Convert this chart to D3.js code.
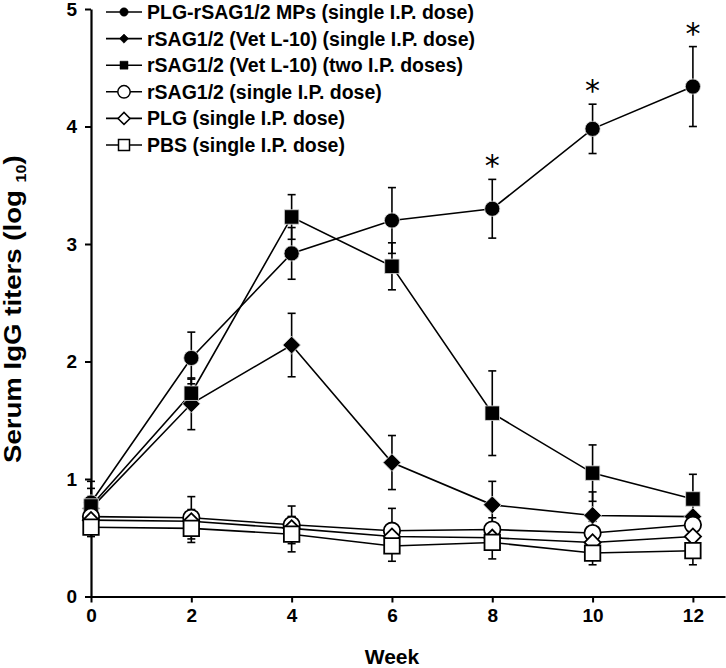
<!DOCTYPE html>
<html><head><meta charset="utf-8">
<script src="https://cdn.jsdelivr.net/npm/d3@7"></script>
<style>body{margin:0;background:#fff}svg{display:block}</style>
</head><body><svg id="chart" width="726" height="668"></svg>
<script>
// ---- data ----
const weeks = [0, 2, 4, 6, 8, 10, 12];
const seriesNames = [
  "PLG-rSAG1/2 MPs (single I.P. dose)",
  "rSAG1/2 (Vet L-10) (single I.P. dose)",
  "rSAG1/2 (Vet L-10) (two I.P. doses)",
  "rSAG1/2 (single I.P. dose)",
  "PLG (single I.P. dose)",
  "PBS (single I.P. dose)"
];
const mpsMean   = [0.80, 2.03, 2.92, 3.20, 3.30, 3.98, 4.34];
const mpsErr    = [0.18, 0.22, 0.22, 0.28, 0.25, 0.21, 0.34];
const vet1Mean  = [0.75, 1.64, 2.14, 1.14, 0.78, 0.69, 0.68];
const vet1Err   = [0.10, 0.22, 0.27, 0.23, 0.20, 0.20, 0.04];
const vet2Mean  = [0.77, 1.73, 3.23, 2.81, 1.56, 1.05, 0.83];
const vet2Err   = [0.15, 0.12, 0.19, 0.20, 0.36, 0.24, 0.21];
const sagMean   = [0.68, 0.67, 0.61, 0.56, 0.57, 0.54, 0.61];
const sagErr    = [0.10, 0.18, 0.16, 0.19, 0.10, 0.10, 0.05];
const plgMean   = [0.65, 0.64, 0.58, 0.51, 0.50, 0.46, 0.51];
const plgErr    = [0.08, 0.10, 0.10, 0.10, 0.08, 0.08, 0.05];
const pbsMean   = [0.59, 0.58, 0.53, 0.43, 0.46, 0.37, 0.39];
const pbsErr    = [0.08, 0.12, 0.15, 0.13, 0.14, 0.10, 0.12];
const sigWeeks  = [8, 10, 12];
const xTicks = [0, 2, 4, 6, 8, 10, 12];
const yTicks = [0, 1, 2, 3, 4, 5];

const series = [
  {name: seriesNames[0], mean: mpsMean,  err: mpsErr,  shape: "circle",  filled: true},
  {name: seriesNames[1], mean: vet1Mean, err: vet1Err, shape: "diamond", filled: true},
  {name: seriesNames[2], mean: vet2Mean, err: vet2Err, shape: "square",  filled: true},
  {name: seriesNames[3], mean: sagMean,  err: sagErr,  shape: "circle",  filled: false},
  {name: seriesNames[4], mean: plgMean,  err: plgErr,  shape: "diamond", filled: false},
  {name: seriesNames[5], mean: pbsMean,  err: pbsErr,  shape: "square",  filled: false}
];

// ---- layout ----
const FONT = "'Liberation Sans', Arial, sans-serif";
const svg = d3.select("#chart");
const x = d3.scaleLinear().domain([0, 12.64]).range([91, 725]);
const y = d3.scaleLinear().domain([0, 5]).range([596.5, 9]);

function markerPath(shape, big, filled) {
  if (shape === "circle") return d3.symbol(d3.symbolCircle, Math.PI * Math.pow(big ? (filled ? 7.6 : 8.2) : (filled ? 4.2 : 6.2), 2))();
  if (shape === "square") { const s = big ? (filled ? 14.5 : 15.5) : (filled ? 8 : 11); return d3.symbol(d3.symbolSquare, s * s)(); }
  const s = big ? (filled ? 12.5 : 11.5) : (filled ? 6.5 : 8.5); return d3.symbol(d3.symbolSquare, s * s)();
}

// axes
const yAxis = d3.axisLeft(y).tickValues(yTicks).tickSize(6).tickSizeOuter(0).tickPadding(8).tickFormat(d3.format("d"));
const xAxis = d3.axisBottom(x).tickValues(xTicks).tickSize(6).tickSizeOuter(0).tickPadding(6).tickFormat(d3.format("d"));
const gy = svg.append("g").attr("transform", "translate(91,0)").call(yAxis);
const gx = svg.append("g").attr("transform", "translate(0,596.5)").call(xAxis);
[gx, gy].forEach(g => {
  g.select(".domain").attr("stroke", "#000").attr("stroke-width", 2.2);
  g.selectAll(".tick line").attr("stroke", "#000").attr("stroke-width", 2);
  g.selectAll(".tick text").attr("fill", "#000").style("font-family", FONT).style("font-weight", "bold").style("font-size", "19px");
});

// axis titles
svg.append("text").attr("x", 392).attr("y", 664).attr("text-anchor", "middle")
  .style("font-family", FONT).style("font-weight", "bold").style("font-size", "21px").text("Week");
const yt = svg.append("text").attr("transform", "translate(21,463) rotate(-90) scale(1.15,1)").attr("text-anchor", "start")
  .style("font-family", FONT).style("font-weight", "bold").style("font-size", "24px");
yt.append("tspan").text("Serum IgG titers (log ");
yt.append("tspan").attr("dy", 5).style("font-size", "14px").text("10");
yt.append("tspan").attr("dy", -5).text(")");

// lines
const line = d3.line().x((d, i) => x(weeks[i])).y(d => y(d));
const plot = svg.append("g");
series.forEach(s => {
  plot.append("path").attr("d", line(s.mean)).attr("fill", "none").attr("stroke", "#000").attr("stroke-width", 1.6);
});
// error bars
series.forEach(s => {
  const g = plot.append("g").attr("stroke", "#000").attr("stroke-width", 1.6);
  s.mean.forEach((m, i) => {
    const cx = x(weeks[i]);
    g.append("line").attr("x1", cx).attr("x2", cx).attr("y1", y(m - s.err[i])).attr("y2", y(m + s.err[i]));
    g.append("line").attr("x1", cx - 4).attr("x2", cx + 4).attr("y1", y(m - s.err[i])).attr("y2", y(m - s.err[i]));
    g.append("line").attr("x1", cx - 4).attr("x2", cx + 4).attr("y1", y(m + s.err[i])).attr("y2", y(m + s.err[i]));
  });
});
// markers
series.forEach(s => {
  s.mean.forEach((m, i) => {
    plot.append("path").attr("d", markerPath(s.shape, true, s.filled))
      .attr("transform", `translate(${x(weeks[i])},${y(m)})` + (s.shape === "diamond" ? " rotate(45)" : ""))
      .attr("fill", s.filled ? "#000" : "#fff")
      .attr("stroke", s.filled ? "#ddd" : "#000").attr("stroke-width", s.filled ? 0.8 : 1.8);
  });
});
// significance asterisks
sigWeeks.forEach(w => {
  const i = weeks.indexOf(w);
  svg.append("text").attr("x", x(w)).attr("y", y(mpsMean[i] + mpsErr[i]) - 20 + 17)
    .attr("text-anchor", "middle").style("font-family", "'DejaVu Sans', sans-serif").style("font-size", "30px").text("*");
});

// legend
const lg = svg.append("g");
series.forEach((s, k) => {
  const ry = 12 + k * 26.6;
  lg.append("line").attr("x1", 106).attr("x2", 142).attr("y1", ry).attr("y2", ry).attr("stroke", "#000").attr("stroke-width", 1.6);
  lg.append("path").attr("d", markerPath(s.shape, false, s.filled))
    .attr("transform", `translate(124,${ry})` + (s.shape === "diamond" ? " rotate(45)" : ""))
    .attr("fill", s.filled ? "#000" : "#fff").attr("stroke", "#000").attr("stroke-width", s.filled ? 0.5 : 1.5);
  lg.append("text").attr("x", 147).attr("y", ry + 7)
    .style("font-family", FONT).style("font-weight", "bold").style("font-size", "19.5px").text(s.name);
});
</script>
</body></html>
